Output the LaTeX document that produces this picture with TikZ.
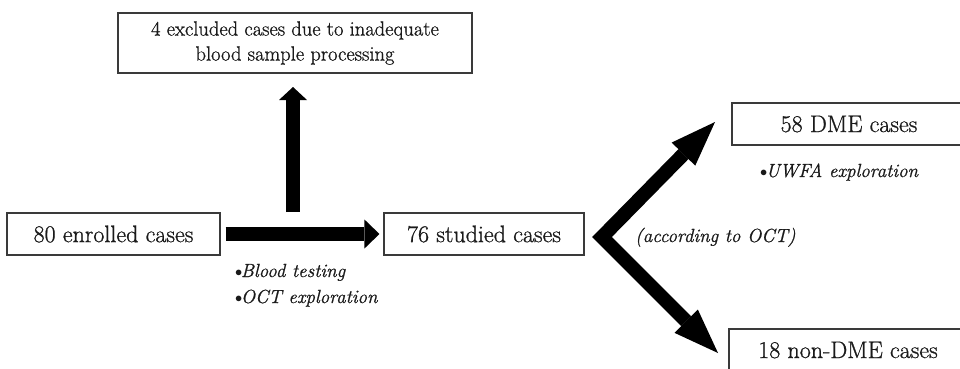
\documentclass[tikz,border=0pt]{standalone}
\usepackage{fontspec}
\setmainfont{Latin Modern Roman}[FakeBold=0.9]
\usetikzlibrary{arrows.meta}
\definecolor{txt}{HTML}{1A1A1A}
\definecolor{edge}{HTML}{3A3A3A}
\tikzset{
  box/.style={draw=edge, line width=1.1pt, rectangle, inner sep=0pt, text=txt,
    font=\fontsize{24}{28}\selectfont, minimum height=42pt},
  note/.style={text=txt, inner sep=0pt, anchor=base west,
    font=\fontsize{19}{23}\selectfont\itshape},
  shaft/.style={line width=14pt, black, line cap=butt},
}
\newcommand{\bul}{{\upshape\fontsize{15}{15}\selectfont\raisebox{0.5pt}{$\bullet$}\kern-1.5pt}}
\begin{document}
\begin{tikzpicture}[x=1pt,y=-1pt]
\useasboundingbox (0,0) rectangle (960,368);
% boxes
\node[box, minimum width=354pt, minimum height=60pt, align=center,
      font=\fontsize{20.5}{25}\selectfont] (excl) at (295,43)
      {4 excluded cases due to inadequate\\blood sample processing};
\node[box, minimum width=213pt] (enrol) at (113.5,234) {80 enrolled cases};
\node[box, minimum width=200pt] (stud) at (484,234) {76 studied cases};
\node[box, minimum width=234pt] (dme) at (849,124) {58 DME cases};
\node[box, minimum width=238pt] (ndme) at (848,350) {18 non-DME cases};
% notes
\node[note] (n1) at (235,277) {\bul Blood testing};
\node[note] (n2) at (235,303) {\bul OCT exploration};
\node[note] (n3) at (760,177) {\bul UWFA exploration};
\node[note] (n4) at (635,242) {(according to OCT)};
% connectors
\coordinate (upbase) at (293,212);
\coordinate (uptip) at (293,87);
\coordinate (vtx) at (602,237);
\coordinate (dmetip) at (715,122);
\coordinate (ndmetip) at (718,353);
\draw[shaft, -{Triangle[length=15pt,width=29pt,line width=0pt]}]
  ([xshift=5pt]enrol.east) -- ([xshift=-4pt]stud.west);
\draw[shaft, -{Triangle[length=13pt,width=28pt,line width=0pt]}]
  (upbase) -- (uptip);
\draw[shaft, line join=miter,
  {Triangle[length=45pt,width=33pt,line width=0pt]}-{Triangle[length=45pt,width=33pt,line width=0pt]}]
  (dmetip) -- (vtx) -- (ndmetip);
\end{tikzpicture}
\end{document}
